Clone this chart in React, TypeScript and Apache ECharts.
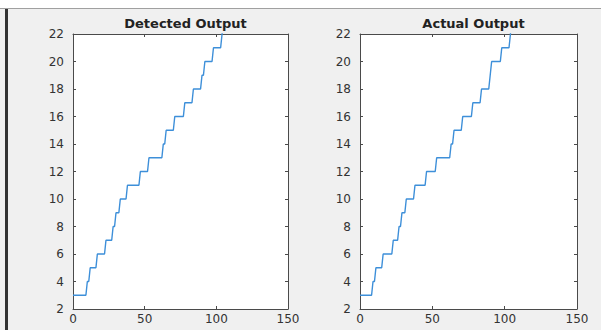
import React, { useEffect, useRef } from "react";
import * as echarts from "echarts";

// Step levels (y values) shared by both panels
const levels = [3, 4, 5, 6, 7, 8, 9, 10, 11, 12, 13, 14, 15, 16, 17, 18, 19, 20, 21, 22, 23];
// Sample index at which each level begins
const detectedStarts = [0, 10, 12, 17, 23, 28, 30, 33, 38, 47, 53, 63, 65, 71, 78, 84, 90, 92, 98, 104, 105];
const actualStarts = [0, 9, 11, 16, 23, 27, 29, 32, 38, 46, 53, 63, 65, 71, 78, 84, 90, 91, 98, 104, 105];

const titles = ["Detected Output", "Actual Output"];
const xRange = { min: 0, max: 150, interval: 50 };
const yRange = { min: 2, max: 22, interval: 2 };

function buildPoints(starts: number[], lv: number[]): number[][] {
  const pts: number[][] = [];
  for (let i = 0; i < starts.length; i++) {
    pts.push([starts[i], lv[i]]);
    if (i + 1 < starts.length && starts[i + 1] - 1 > starts[i]) {
      pts.push([starts[i + 1] - 1, lv[i]]);
    }
  }
  return pts;
}

const axisColor = "#4a4a4a";
const labelColor = "#333333";
const lineColor = "#3d8fd9";
const font = "DejaVu Sans";

const grids = [
  { left: 73, top: 34, width: 215, height: 275 },
  { left: 360, top: 34, width: 217, height: 275 },
];

export default function App() {
  const ref = useRef<HTMLDivElement>(null);
  useEffect(() => {
    if (!ref.current) return;
    const chart = echarts.init(ref.current, null, { renderer: "svg" });
    const xAxes: any[] = [];
    const yAxes: any[] = [];
    grids.forEach((g, gi) => {
      ["bottom", "top"].forEach((pos, k) => {
        xAxes.push({
          type: "value",
          gridIndex: gi,
          position: pos,
          ...xRange,
          axisLine: { show: true, onZero: false, lineStyle: { color: axisColor, width: 1 } },
          axisTick: { show: true, inside: true, length: 3, lineStyle: { color: axisColor } },
          axisLabel: {
            show: k === 0,
            color: labelColor,
            fontFamily: font,
            fontSize: 12,
            margin: 4,
          },
          splitLine: { show: false },
        });
      });
      ["left", "right"].forEach((pos, k) => {
        yAxes.push({
          type: "value",
          gridIndex: gi,
          position: pos,
          ...yRange,
          axisLine: { show: true, onZero: false, lineStyle: { color: axisColor, width: 1 } },
          axisTick: { show: true, inside: true, length: 3, lineStyle: { color: axisColor } },
          axisLabel: {
            show: k === 0,
            color: labelColor,
            fontFamily: font,
            fontSize: 12,
            margin: 9,
          },
          splitLine: { show: false },
        });
      });
    });

    const seriesData = [buildPoints(detectedStarts, levels), buildPoints(actualStarts, levels)];

    chart.setOption({
      animation: false,
      backgroundColor: "#f0f0f0",
      title: grids.map((g, i) => ({
        text: titles[i],
        left: g.left + g.width / 2,
        top: 12,
        textAlign: "center",
        textStyle: { fontFamily: font, fontWeight: "bold", fontSize: 13, color: "#222" },
      })),
      grid: grids.map((g) => ({ ...g, show: true, backgroundColor: "#ffffff", borderWidth: 0 })),
      xAxis: xAxes,
      yAxis: yAxes,
      series: seriesData.map((d, i) => ({
        type: "line",
        xAxisIndex: i * 2,
        yAxisIndex: i * 2,
        data: d,
        showSymbol: false,
        clip: true,
        lineStyle: { color: lineColor, width: 1.4 },
      })),
      graphic: [
        { type: "rect", shape: { x: 0, y: 0, width: 601, height: 8 }, style: { fill: "#ffffff" } },
        { type: "line", shape: { x1: 0, y1: 8.5, x2: 601, y2: 8.5 }, style: { stroke: "#a0a0a0", lineWidth: 1 } },
        { type: "rect", shape: { x: 5, y: 9, width: 3, height: 321 }, style: { fill: "#333333" } },
      ],
    });
    return () => chart.dispose();
  }, []);
  return (
    <div
      ref={ref}
      style={{ position: "fixed", left: 0, top: 0, width: 601, height: 330 }}
    />
  );
}
